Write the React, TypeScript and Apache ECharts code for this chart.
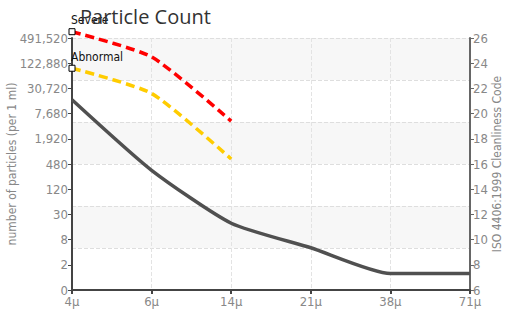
import React, { useEffect, useRef } from "react";
import * as echarts from "echarts";

const categories = ["4μ", "6μ", "14μ", "21μ", "38μ", "71μ"];
const sampleCodes = [21.1, 15.5, 11.3, 9.35, 7.3, 7.3];
const abnormalCodes = [23.6, 21.6, 16.4];
const severeCodes = [26.5, 24.5, 19.4];
const isoTicks = [6, 8, 10, 12, 14, 16, 18, 20, 22, 24, 26];
const countLabels = ["0", "2", "8", "30", "120", "480", "1,920", "7,680", "30,720", "122,880", "491,520"];

const narrow = "'Liberation Sans Narrow', 'DejaVu Sans Condensed', sans-serif";

export default function App() {
  const ref = useRef<HTMLDivElement>(null);
  useEffect(() => {
    const chart = echarts.init(ref.current!, null, { renderer: "svg" });
    const labelFor = (v: number) => {
      const i = isoTicks.indexOf(v);
      return i >= 0 ? countLabels[i] : "";
    };
    const firstMarked = (arr: number[], name: string) =>
      arr.map((v, i) =>
        i === 0
          ? {
              value: v,
              symbol: "rect",
              symbolSize: 6,
              itemStyle: { color: "#fff", borderColor: "#000", borderWidth: 1 },
              label: {
                show: true,
                position: "top",
                align: "left",
                distance: 2,
                offset: [-1, 0],
                formatter: name,
                fontFamily: narrow,
                fontSize: 12,
                color: "#111",
              },
            }
          : { value: v, symbol: "none" }
      );
    chart.setOption({
      animation: false,
      title: {
        text: "Particle Count",
        left: 75,
        top: 1,
        textStyle: { fontFamily: "'Open Sans', sans-serif", fontSize: 20, fontWeight: "normal", color: "#333" },
      },
      grid: { left: 72, right: 37, top: 38, bottom: 25, containLabel: false, outerBoundsMode: "none" },
      xAxis: {
        type: "category",
        data: categories,
        boundaryGap: false,
        axisLine: { lineStyle: { color: "#444", width: 2 } },
        axisTick: { show: true, length: 4, lineStyle: { color: "#444", width: 2 } },
        axisLabel: { color: "#888", fontFamily: narrow, fontSize: 13, margin: 5 },
        splitLine: { show: true, lineStyle: { color: "#e3e3e3", type: "dashed" } },
      },
      yAxis: [
        {
          type: "value",
          position: "left",
          min: 6,
          max: 26,
          interval: 2,
          name: "number of particles (per 1 ml)",
          nameLocation: "middle",
          nameGap: 54,
          nameMoveOverlap: false,
          nameTextStyle: { color: "#888", fontFamily: narrow, fontSize: 12 },
          axisLine: { show: true, lineStyle: { color: "#444", width: 2 } },
          axisTick: { show: true, length: 4, lineStyle: { color: "#444" } },
          axisLabel: { color: "#888", fontFamily: narrow, fontSize: 13, margin: 4, formatter: labelFor },
          splitLine: { show: false },
        },
        {
          type: "value",
          position: "right",
          min: 6,
          max: 26,
          interval: 2,
          name: "ISO 4406:1999 Cleanliness Code",
          nameLocation: "middle",
          nameGap: 21,
          nameMoveOverlap: false,
          nameTextStyle: { color: "#888", fontFamily: narrow, fontSize: 12 },
          axisLine: { show: true, lineStyle: { color: "#666", width: 2 } },
          axisTick: { show: true, length: 4, lineStyle: { color: "#666" } },
          axisLabel: { color: "#888", fontFamily: narrow, fontSize: 13, margin: 3 },
          splitLine: { show: false },
        },
        {
          type: "value",
          position: "left",
          min: 0,
          max: 6,
          interval: 1,
          axisLine: { show: false },
          axisTick: { show: false },
          axisLabel: { show: false },
          splitLine: { show: true, lineStyle: { color: "#dedede", type: "dashed" } },
          splitArea: { show: true, areaStyle: { color: ["rgba(255,255,255,0)", "#f7f7f7"] } },
        },
      ],
      series: [
        {
          type: "line",
          yAxisIndex: 1,
          data: sampleCodes,
          smooth: 0.2,
          symbol: "none",
          lineStyle: { color: "#505050", width: 3.5 },
          z: 3,
        },
        {
          type: "line",
          yAxisIndex: 1,
          data: firstMarked(abnormalCodes, "Abnormal"),
          smooth: 0.2,
          clip: false,
          lineStyle: { color: "#ffcc00", width: 3.5, type: [9, 5] },
          z: 4,
        },
        {
          type: "line",
          yAxisIndex: 1,
          data: firstMarked(severeCodes, "Severe"),
          smooth: 0.2,
          clip: false,
          lineStyle: { color: "#ff0000", width: 3.5, type: [9, 5] },
          z: 4,
        },
      ],
    });
    return () => chart.dispose();
  }, []);
  return <div ref={ref} style={{ width: 507, height: 315, position: "absolute", left: 0, top: 0 }} />;
}
